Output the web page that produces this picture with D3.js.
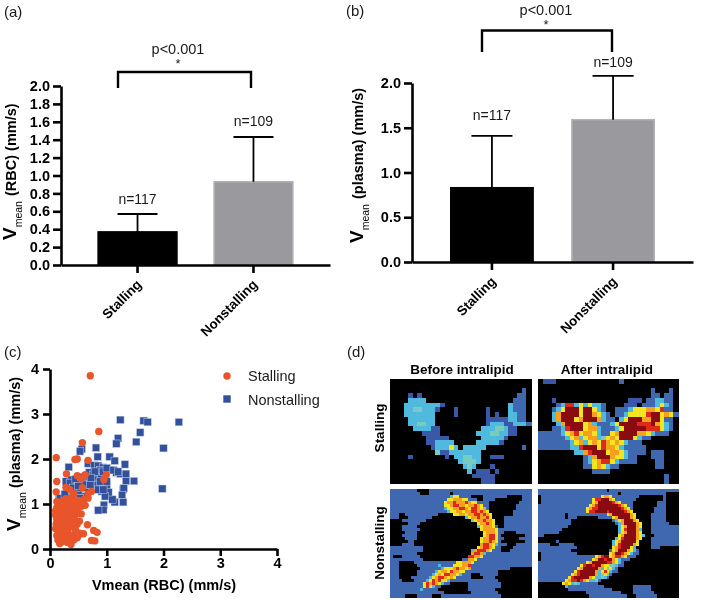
<!DOCTYPE html>
<html><head><meta charset="utf-8">
<script src="https://cdn.jsdelivr.net/npm/d3@7"></script>
<style>html,body{margin:0;padding:0;background:#fff}svg{display:block;font-family:"Liberation Sans",Arial,sans-serif;filter:blur(0.35px)}</style>
</head><body><svg id="c" width="702" height="600"></svg>
<script>
const categories = ["Stalling","Nonstalling"];
const counts = ["n=117","n=109"];
const rbcMeans = [0.37,0.93];
const rbcTops = [0.57,1.43];
const plasmaMeans = [0.83,1.59];
const plasmaTops = [1.41,2.08];
const rbcTicks = [0,0.2,0.4,0.6,0.8,1.0,1.2,1.4,1.6,1.8,2.0];
const plasmaTicks = [0,0.5,1.0,1.5,2.0];
const scatterTicks = [0,1,2,3,4];
const nonstallingPoints = [[1.24,2.87],[1.65,2.85],[1.72,2.82],[2.27,2.82],[1.59,2.59],[1.2,2.46],[1.17,2.34],[1.52,2.38],[2.0,2.24],[0.56,2.22],[0.53,2.17],[0.81,2.25],[0.84,2.05],[1.05,2.05],[1.14,1.96],[0.33,1.82],[1.32,1.88],[0.67,1.9],[0.78,1.86],[0.85,1.85],[0.94,1.81],[0.88,1.75],[1.06,1.76],[1.17,1.7],[1.24,1.67],[1.34,1.67],[0.69,1.7],[0.76,1.65],[0.82,1.6],[1.34,1.51],[1.48,1.51],[1.98,1.34],[1.29,1.32],[1.3,1.35],[1.27,1.2],[1.29,1.04],[1.14,1.04],[1.1,1.1],[0.28,1.5],[0.38,1.54],[0.44,1.43],[0.53,1.47],[0.63,1.47],[0.72,1.5],[0.79,1.54],[0.88,1.39],[0.95,1.47],[1.0,1.36],[0.91,1.28],[1.03,1.26],[0.97,1.17],[0.95,0.98],[0.94,0.87],[0.85,0.86],[0.28,1.23],[0.16,1.13],[0.56,1.17],[0.38,0.91],[0.38,1.32],[0.5,1.3],[0.62,1.36],[0.76,1.45],[0.35,1.47],[0.9,1.6],[0.98,1.7],[0.6,1.55],[0.84,1.42],[0.47,1.36],[0.7,1.54],[0.62,1.43],[0.71,1.43],[0.85,1.32],[0.94,1.32],[0.18,1.13],[0.26,1.22],[0.41,1.36],[0.53,1.13],[0.79,1.72],[0.94,1.72],[1.0,1.8],[0.45,1.55],[0.55,1.6],[0.5,1.4],[0.72,1.58],[1.12,1.75],[1.2,1.72],[0.88,1.5],[1.0,1.5]];
const stallingPoints = [[0.71,3.85],[0.86,2.61],[0.57,2.36],[0.11,2.03],[0.44,1.99],[0.48,2.0],[0.67,1.97],[0.12,1.5],[0.29,1.67],[0.48,1.63],[0.55,1.56],[0.62,1.65],[0.99,1.65],[0.95,1.54],[0.11,1.27],[0.28,1.37],[0.35,1.32],[0.42,1.23],[0.57,1.36],[0.73,1.28],[0.67,1.23],[0.67,1.13],[0.62,0.97],[0.53,1.02],[0.4,1.17],[0.66,0.54],[0.77,0.41],[0.83,0.37],[0.73,0.19],[0.79,0.18],[0.59,0.34],[0.1,0.85],[0.12,0.65],[0.1,0.45],[0.12,0.3],[0.14,0.2],[0.17,0.12],[0.2,0.15],[0.15,1.0],[0.2,1.05],[0.25,1.0],[0.3,1.05],[0.18,0.9],[0.22,0.85],[0.27,0.9],[0.32,0.88],[0.14,0.75],[0.19,0.72],[0.24,0.7],[0.3,0.72],[0.36,0.75],[0.15,0.58],[0.2,0.6],[0.25,0.55],[0.31,0.58],[0.13,0.48],[0.18,0.45],[0.23,0.42],[0.28,0.45],[0.34,0.48],[0.4,0.5],[0.16,0.35],[0.21,0.32],[0.26,0.3],[0.32,0.35],[0.38,0.3],[0.45,0.28],[0.5,0.3],[0.18,0.22],[0.24,0.2],[0.3,0.25],[0.37,0.1],[0.42,0.2],[0.48,0.25],[0.52,0.35],[0.44,0.75],[0.5,0.8],[0.52,0.62],[0.48,0.55],[0.45,0.42],[0.36,1.0],[0.42,1.05],[0.47,0.95],[0.55,0.95],[0.38,0.85],[0.35,1.12],[0.28,1.12],[0.5,1.08],[0.55,0.78],[0.12,1.05],[0.1,0.75],[0.11,0.55],[0.25,1.08],[0.2,0.98],[0.12,0.92],[0.17,0.65],[0.27,0.62],[0.22,0.52],[0.16,0.28],[0.28,0.36],[0.34,0.62],[0.34,0.2],[0.15,0.4],[0.42,0.65],[0.46,0.85],[0.3,0.15],[0.4,0.92],[0.26,0.78],[0.6,1.1]];
const heatLevels = ["k","b","d","c","t","y","o","r","m"];
const heatColors = ["#000000","#4068b0","#3a58a8","#50b9de","#78cbc0","#f2e41e","#f5a01e","#dd2a1c","#8a0c10"];
const stallingBefore = ["30k","30k","29k1b","4k1d1k1d21k2b","4k4c19k3b","3k8c1d14k1c3b","3k2c2t3c1d3k1d6k1d4k1c3b","3k7c4k1d6k1d1k1d2k2c2b","4k6c11k5d2c2b","4k2c2t2c11k1d3c2d3c1b","5k4c2d9k3c2t1c2d2k","7k4d8k3c2t2c2d2k","8k5d7k5c1d4k","8k2d4c5k5c1d5k","9k1d3c1y1c1k5c8k1b","10k1t2d7c10k","4k1d7k1d1k2c2t2c2k3d5k","15k1c3t1c10k","16k1c1t1c3k1d7k","17k1c1k3d1k1d6k","18k5d7k","20k3d7k"];
const stallingAfter = ["1k3d14k1b11k","30k","25k1b3k1b","25k2b1k2b","3k1d16k3d1k2b2c2b","4k1b1c2r1c1y1c1y2c1b4k3d1k3b1c1y1c1b","3k1b1c1y3m1y2m1y1c1b2k3b1c3y2o1y1r2b","3k1c1o4m1y2m1o1y1c1b1k2b1c4y1r2m1y1o1y1b","3k1c1o3m1y1o3m1o1c2b1k1c1y3m2o2m1y2b","4k1c1o4m1y1o1c3b1c1y4m3r1m1o1y1c1b","3k2b1c1r3m1y2o1c3b1c1y5m3r1y1c1b","5b1c1y1o1r1y2o1y1c2b1y1o4m2o1y1c3b1k","6b1c1y1o1c1y2o1c1t1y1o1y3m1y1c2b5k","7b1c1y1o1c1y1o1y1r1o1y1o1y1c3b7k","7b2c1r3m1y1r2o1y1c5b6k","8k2c1o1r3m1y2o1y1c4b1k3b2k","10k1b1c1o3m1o2y1c2b3k3b2k","10k1b1c1y1o2r1y1c4b4k2b2k","10k2b1y1o1y1c2b8k2b2k","12k4b14k","28k1b1k","28k1b1k"];
const nonstallingBefore = ["9b4k34b","10b3k7b1k26b","20b1c2y4b4k8b5k","19b2y3o2y3b2k4b9k","18b1y2o1r3o1r1o2y4b10k","18b2y1o2r2o1y2o1r1o1y2b9k","18b1c2y2o2r1o1y2r1o1y1o1b9k","19b1c2y2o1y2o2r1o1r1o1y8k","3b2k11b5k2y2o1y2o2r1o1r1o1y7k","3b3k8b11k1c1y2o1r2o1r1y4k","4k8b15k1t1y2o1r2o1y3k","6k4b19k1y2o1r1o1y3k","4k5b20k1c1y3o1y1b2k","4k6b20k1y4o1y","5k4b22k1y3o1y2b4k","4k5b22k1y1o2r1y1b8k","5k4b21k1y2o2r1y2b5k","6k2b22k1y2o1r1o1y1b8k","4k4b22k1o2r1o1y1c3b3k","11b18k1y1o2r1o1y2b4k","11b16k1c1o3r1o1y3b3k","9b18k1o2r1o1c","1b3k6b16k2r2o1y","11b13k2b2o1y","3b5k14b2y2o1o1y","3b6k7b1c4b3y2o1r","3b7k7b1c3y1o1r2o1y1o13b7k","3b6k6b1c1y2o1y1r2o2y11b11k","3b6k5b1c1y1o1y2r2o1y1c3b3k6b11k","3b4k6b1c1y1o2r1o1y1o1y5b4k4b12k","4b4k4b1c1y1r1o1r2y1c16b11k","11b1y1r1o1r1o1y1c2b6k11b10k","11b1y1r1y1c2b9k11b10k","10b1c5b10k9b12k","18b9k9b11k","5b4k5b3k20b10k"];
const nonstallingAfter = ["23b1k23b","27b1k15b4k","1k20b1y2o1y9b8k1b4k","1k17b1y2r3m1o1y7b9k1b4k","1k17b1y1o5m1r1o1y4b8k3b4k","17b1y1o1r7m1r1o1y2b8k3b4k","16b1y1o2r8m1r1o1y1b7k4b4k","16b1y2r4m1r5m1r1o1y7k4b4k","9b1k13b1y1o6m1o1y5k5b4k","9b1k3b7k5b1y1o4m1o1y5k5b4k","11b14k1b1c1y1o3m1o1y4k5b4k","11b15k1b1c1o4m1o1y3k6b3k","10b17k1c1y1o3m1o1y3k","8b19k1c1y1r3m1o1c3k","7b20k1c1y1o3m1o1y3k","2b25k1y1o4m1o1y1c3k","26k1c1y1r4m1o1y3k","6k1b18k1c1y1o5m1y4k","4b3k5b13k1c1y1r4m1o1y4k","13b12k1y1o1r3m1y1c5k3b6k","11b13k1b1y1o3m1o1y1c1b13k","1k12b11k1y1o2m1r1o1y1c2b13k","1k18b1y1o1r2m1y1o2r1o1y3b14k","1k17b1y1o2m1r2m1o1y1c3b16k","16b1y1o5m2r1o1y1c1b18k","14b1y1r2m1r2m1o2y2t1c2b18k","13b1y1o5m1o1c1y1t1y1c1b20k","12b1y1r5m1o1c1y1r1y1c2b20k","11b1y1o1r5m1o1c1t1y1t1b22k","10b1y1r5m1o1y1c1c1t1c1b23k","9b1y1o2r1m1r1o1y1c1c1t1b26k","8k1y1o1y1c1t1c6b27k","9k1c12b10k6b9k","10k15b7k6b9k","16k12b4k7b8k","17k13b3k7b7k"];
const heatTitles = ["Before intralipid","After intralipid"];
const heatRows = ["Stalling","Nonstalling"];

const svg = d3.select("#c");
const decode = rows => rows.map(r => { let s = ""; for (const m of r.matchAll(/(\d+)([a-z])/g)) s += m[2].repeat(+m[1]); return s; });
const colorOf = d3.scaleOrdinal(heatLevels, heatColors);

function styleAxis(g){ g.selectAll(".domain,.tick line").attr("stroke","#000").attr("stroke-width",2.6);
  g.selectAll("text").attr("fill","#000").attr("font-weight","bold").attr("font-family","'Liberation Sans',Arial,sans-serif"); }
function txt(x,y,s,size,opt={}){ return svg.append("text").attr("x",x).attr("y",y).attr("font-size",size)
  .attr("text-anchor",opt.anchor||"middle").attr("font-weight",opt.weight||"normal").attr("fill",opt.fill||"#1a1a1a").text(s); }
function yLabel(x,y,rest,gap){ const t = svg.append("text").attr("transform",`translate(${x},${y}) rotate(-90)`).attr("fill","#000").attr("font-weight","bold");
  t.append("tspan").attr("font-size",19).text("V");
  t.append("tspan").attr("font-size",10.5).attr("font-weight","normal").attr("dy",6).text("mean");
  t.append("tspan").attr("font-size",14.5).attr("dy",-6).attr("dx",gap).text(rest); }

function barPanel(o){
  const x = d3.scaleBand(categories,o.xr).padding(0.32);
  const y = d3.scaleLinear([0,2],o.yr);
  svg.selectAll(null).data(categories).join("rect").attr("x",d=>x(d)).attr("width",x.bandwidth())
    .attr("y",(d,i)=>y(o.means[i])).attr("height",(d,i)=>y(0)-y(o.means[i]))
    .attr("fill",(d,i)=>i?"#9a9a9e":"#000").attr("stroke",(d,i)=>i?"#b3b3b6":"#000").attr("stroke-width",1.5);
  const w = o.cap;
  categories.forEach((c,i)=>{ const cx = x(c)+x.bandwidth()/2;
    svg.append("line").attr("x1",cx).attr("x2",cx).attr("y1",y(o.means[i])).attr("y2",y(o.tops[i])).attr("stroke","#000").attr("stroke-width",1.8);
    svg.append("line").attr("x1",cx-w).attr("x2",cx+w).attr("y1",y(o.tops[i])).attr("y2",y(o.tops[i])).attr("stroke","#000").attr("stroke-width",1.8);
    txt(cx,o.countY[i],counts[i],14);
  });
  const gy = svg.append("g").attr("transform",`translate(${o.xr[0]},0)`).call(d3.axisLeft(y).tickValues(o.ticks).tickFormat(d3.format(".1f")).tickSize(8).tickSizeOuter(0).tickPadding(3));
  gy.selectAll("text").attr("font-size",14.5); styleAxis(gy);
  const gx = svg.append("g").attr("transform",`translate(0,${o.yr[0]})`).call(d3.axisBottom(x).tickSize(8).tickSizeOuter(0));
  styleAxis(gx);
  gx.selectAll("text").attr("font-size",13.5).attr("text-anchor","end").attr("transform","rotate(-45)").attr("dx",-11).attr("dy",11.8).attr("y",6);
  const [bx1,bx2,bt,bb] = o.bracket;
  svg.append("path").attr("d",d3.line()([[bx1,bb],[bx1,bt],[bx2,bt],[bx2,bb]])).attr("fill","none").attr("stroke","#000").attr("stroke-width",2.4);
  txt((bx1+bx2)/2+o.pdx,o.pY,"p<0.001",14.5);
  txt((bx1+bx2)/2+o.pdx,o.pY+14,"*",13);
}
barPanel({xr:[61,330],yr:[265,86],means:rbcMeans,tops:rbcTops,ticks:rbcTicks,cap:20,countY:[204,126],bracket:[118,251,72,88],pY:54,pdx:-6.5});
barPanel({xr:[412,693],yr:[262,83],means:plasmaMeans,tops:plasmaTops,ticks:plasmaTicks,cap:20.5,countY:[120,67],bracket:[482,612,30.5,52],pY:15,pdx:-1});
yLabel(16,240,"(RBC) (mm/s)",5);
yLabel(363,243,"(plasma) (mm/s)",5);

// panel c
const sx = d3.scaleLinear([0,4],[50,277]);
const sy = d3.scaleLinear([0,4],[549,369]);
svg.append("g").selectAll("rect").data(nonstallingPoints).join("rect")
  .attr("x",d=>sx(d[0])-3.7).attr("y",d=>sy(d[1])-3.7).attr("width",7.4).attr("height",7.4)
  .attr("fill","#33509c").attr("stroke","#c8d2ea").attr("stroke-width",0.5);
svg.append("g").selectAll("circle").data(stallingPoints).join("circle")
  .attr("cx",d=>sx(d[0])).attr("cy",d=>sy(d[1])).attr("r",3.7).attr("fill","#e8552b");
const gsx = svg.append("g").attr("transform","translate(0,549)").call(d3.axisBottom(sx).tickValues(scatterTicks).tickFormat(d3.format("d")).tickSize(7).tickSizeOuter(0).tickPadding(2));
gsx.selectAll("text").attr("font-size",14.5); styleAxis(gsx);
const gsy = svg.append("g").attr("transform","translate(50,0)").call(d3.axisLeft(sy).tickValues(scatterTicks).tickFormat(d3.format("d")).tickSize(7).tickSizeOuter(0).tickPadding(4));
gsy.selectAll("text").attr("font-size",14.5); styleAxis(gsy);
yLabel(20,531,"(plasma) (mm/s)",4);
txt(164,590,"Vmean (RBC) (mm/s)",14.5,{weight:"bold",fill:"#000"});
svg.append("circle").attr("cx",227).attr("cy",376).attr("r",3.7).attr("fill","#e8552b");
svg.append("rect").attr("x",223.3).attr("y",395.3).attr("width",7.4).attr("height",7.4).attr("fill","#33509c");
txt(248,381,categories[0],14.5,{anchor:"start"});
txt(248,405,categories[1],14.5,{anchor:"start"});

// panel d
function heat(rows,x0,x1,y0,y1,fill){
  const g = decode(rows), nc = d3.max(g,r=>r.length);
  const cx = d3.scaleBand(d3.range(nc),[x0,x1]), cy = d3.scaleBand(d3.range(g.length),[y0,y1]);
  const cells = g.flatMap((r,j)=>d3.range(nc).map(i=>({i,j,v:r[i]||fill})));
  svg.append("g").attr("shape-rendering","crispEdges").selectAll("rect").data(cells).join("rect")
    .attr("x",d=>cx(d.i)).attr("y",d=>cy(d.j)).attr("width",cx.bandwidth()+0.5).attr("height",cy.bandwidth()+0.5).attr("fill",d=>colorOf(d.v));
}
heat(stallingBefore,390,531,379,483,"k");
heat(stallingAfter,538,678,379,483,"k");
heat(nonstallingBefore,390,531,488.5,597,"b");
heat(nonstallingAfter,538,678,488.5,597,"b");
txt(462,374,heatTitles[0],13.5,{weight:"bold",fill:"#000"});
txt(607,374,heatTitles[1],13.5,{weight:"bold",fill:"#000"});
svg.append("text").attr("transform","translate(384,428) rotate(-90)").attr("text-anchor","middle").attr("font-size",13.5).attr("font-weight","bold").text(heatRows[0]);
svg.append("text").attr("transform","translate(384,543) rotate(-90)").attr("text-anchor","middle").attr("font-size",13.5).attr("font-weight","bold").text(heatRows[1]);

txt(4,17,"(a)",15,{anchor:"start"});
txt(346,16,"(b)",15,{anchor:"start"});
txt(4,357,"(c)",15,{anchor:"start"});
txt(347,357,"(d)",15,{anchor:"start"});
</script></body></html>
